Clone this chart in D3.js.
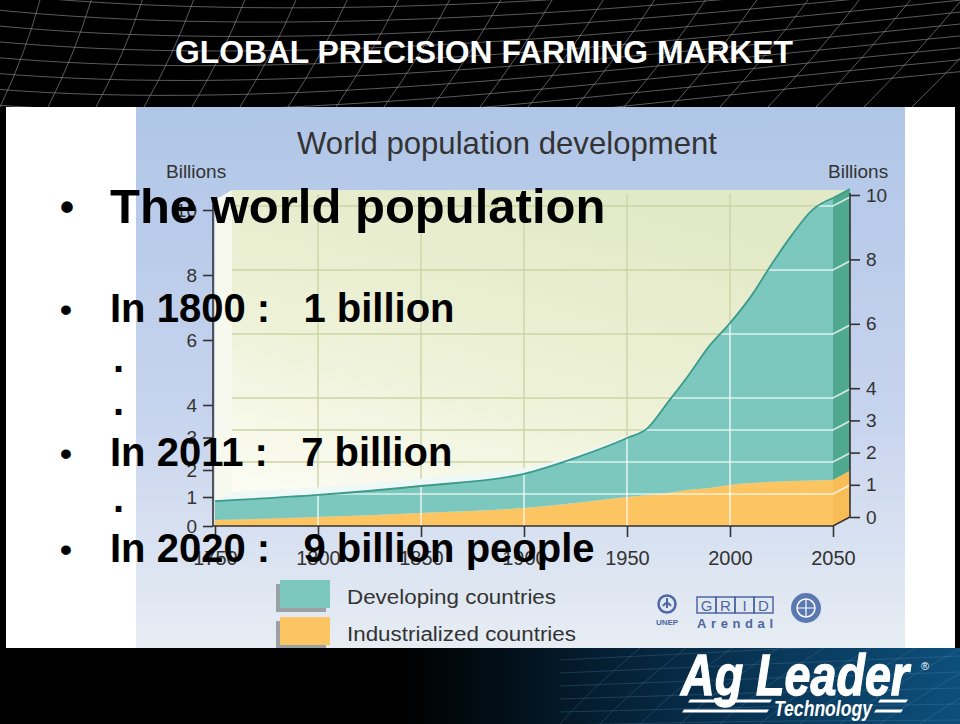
<!DOCTYPE html>
<html lang="en">
<head>
<meta charset="UTF-8">
<script src="https://d3js.org/d3.v7.min.js"></script>
<style>
  body { margin: 0; background: #fff; }
  svg { display: block; }
  text { font-family: "Liberation Sans", Arial, sans-serif; }
</style>
</head>
<body>
<script>
// values, billions of people
var years = [1750, 1800, 1850, 1900, 1925, 1950, 1960, 1970, 1980, 1990, 2000, 2010, 2020, 2030, 2040, 2050];
var industrialized = [0.19, 0.28, 0.41, 0.56, 0.72, 0.91, 0.97, 1.03, 1.13, 1.19, 1.28, 1.34, 1.38, 1.41, 1.42, 1.44];
var developing = [0.59, 0.69, 0.84, 1.07, 1.41, 1.84, 2.09, 2.85, 3.59, 4.44, 5.06, 5.82, 6.78, 7.68, 8.46, 8.81];
var xTicks = [1750, 1800, 1850, 1900, 1950, 2000, 2050];
var yTicks = [0, 1, 2, 3, 4, 6, 8, 10];
var legendLabels = ["Developing countries", "Industrialized countries"];
var bulletLines = ["The world population", "In 1800 :   1 billion", "In 2011 :   7 billion", "In 2020 :   9 billion people"];

var width = 960, height = 724;
var svg = d3.select("body").append("svg")
    .attr("width", width)
    .attr("height", height);
var defs = svg.append("defs");

var colTeal = "#7cc8be", colTealDark = "#3b9b8b", colTealSide = "#4fa98f",
    colOrange = "#fdc462", colAxis = "#333";

// scales
var x = d3.scaleLinear().domain([1750, 2050]).range([215, 833]);
var y = d3.scaleLinear().domain([0, 10]).range([526, 206]);
var yLeft = d3.scaleLinear().domain([0, 1, 2, 4, 10]).range([526, 497, 470, 405, 210]);
var yRight = d3.scaleLinear().domain([0, 10]).range([517, 195]);
var dx = 17, dy = -9; // depth of the 3d box

var rows = years.map(function (yr, i) {
    return { year: yr, ind: industrialized[i], dev: developing[i] };
});
var stack = d3.stack().keys(["ind", "dev"])(rows);

// ---- slide background ----
svg.append("rect").attr("width", width).attr("height", height).attr("fill", "#fff");
svg.append("rect").attr("x", 0).attr("y", 100).attr("width", 6).attr("height", 560).attr("fill", "#000");
svg.append("rect").attr("x", 955).attr("y", 100).attr("width", 5).attr("height", 560).attr("fill", "#000");

// chart picture background
var bg = defs.append("linearGradient").attr("id", "bg").attr("x1", 0).attr("y1", 0).attr("x2", 0).attr("y2", 1);
bg.append("stop").attr("offset", 0).attr("stop-color", "#b0c6e7");
bg.append("stop").attr("offset", 0.55).attr("stop-color", "#c6d3ee");
bg.append("stop").attr("offset", 1).attr("stop-color", "#e7edf3");
svg.append("rect").attr("x", 136).attr("y", 107).attr("width", 769).attr("height", 542).attr("fill", "url(#bg)");

svg.append("text").attr("x", 507).attr("y", 154).attr("text-anchor", "middle")
    .attr("font-size", 32).attr("fill", colAxis)
    .attr("textLength", 420).attr("lengthAdjust", "spacingAndGlyphs")
    .text("World population development");
svg.append("text").attr("x", 166).attr("y", 178).attr("font-size", 19).attr("fill", colAxis).text("Billions");
svg.append("text").attr("x", 828).attr("y", 178).attr("font-size", 19).attr("fill", colAxis).text("Billions");

// ---- 3d box: left wall and back panel ----
var bp = defs.append("linearGradient").attr("id", "backpanel").attr("x1", 0.1).attr("y1", 1).attr("x2", 0.6).attr("y2", 0);
bp.append("stop").attr("offset", 0).attr("stop-color", "#fdfdf6");
bp.append("stop").attr("offset", 0.45).attr("stop-color", "#eef2d8");
bp.append("stop").attr("offset", 1).attr("stop-color", "#e2e9c6");

var plotTop = 190;
svg.append("path")
    .attr("d", d3.line()([[x(1750), y(0)], [x(1750) + dx, y(0) + dy], [x(1750) + dx, plotTop], [x(1750), plotTop + 10]]))
    .attr("fill", "#f7f9ef");
svg.append("rect").attr("x", x(1750) + dx).attr("y", plotTop)
    .attr("width", x(2050) - x(1750)).attr("height", y(0) + dy - plotTop)
    .attr("fill", "url(#backpanel)");

// grid on the back panel
var backGrid = svg.append("g").attr("stroke", "#cdd3a6").attr("stroke-width", 1.4);
backGrid.selectAll(".gv").data(xTicks.slice(1, -1)).enter().append("line")
    .attr("x1", function (d) { return x(d); }).attr("x2", function (d) { return x(d); })
    .attr("y1", y(0)).attr("y2", plotTop + 4);
backGrid.selectAll(".gh").data(yTicks.slice(1)).enter().append("line")
    .attr("x1", x(1750) + dx).attr("x2", x(2050))
    .attr("y1", function (d) { return y(d); }).attr("y2", function (d) { return y(d); });

// top surface of the stacked area (3d lid)
var lid = d3.area()
    .curve(d3.curveMonotoneX)
    .x0(function (d) { return x(d.data.year); })
    .y0(function (d) { return y(d[1]); })
    .x1(function (d) { return x(d.data.year) + dx; })
    .y1(function (d) { return y(d[1]) + dy; });
svg.append("path").datum(stack[1]).attr("d", lid).attr("fill", "#eef8f6");

// front faces
var area = d3.area()
    .curve(d3.curveMonotoneX)
    .x(function (d) { return x(d.data.year); })
    .y0(function (d) { return y(d[0]); })
    .y1(function (d) { return y(d[1]); });
svg.selectAll(".layer").data(stack).enter().append("path")
    .attr("d", area)
    .attr("fill", function (d, i) { return i === 0 ? colOrange : colTeal; });

// side faces at 2050
var last = rows[rows.length - 1];
var xe = x(2050);
var sideLine = d3.line();
svg.append("path")
    .attr("d", sideLine([[xe, y(last.ind + last.dev)], [xe + dx, y(last.ind + last.dev) + dy], [xe + dx, y(last.ind) + dy], [xe, y(last.ind)]]))
    .attr("fill", colTealSide);
svg.append("path")
    .attr("d", sideLine([[xe, y(last.ind)], [xe + dx, y(last.ind) + dy], [xe + dx, y(0) + dy], [xe, y(0)]]))
    .attr("fill", "#f9bd58");

// white grid on the front faces, clipped to the filled area
var totalArea = d3.area()
    .curve(d3.curveMonotoneX)
    .x(function (d) { return x(d.data.year); })
    .y0(y(0))
    .y1(function (d) { return y(d[1]); });
defs.append("clipPath").attr("id", "frontclip").append("path").datum(stack[1])
    .attr("d", function (d) {
        return totalArea(d) + "M" + xe + "," + y(0) + "L" + (xe + dx) + "," + (y(0) + dy) + "L" + (xe + dx) + "," + (y(last.ind + last.dev) + dy) + "L" + xe + "," + y(last.ind + last.dev) + "Z";
    });
var frontGrid = svg.append("g").attr("clip-path", "url(#frontclip)")
    .attr("stroke", "#fff").attr("stroke-opacity", 0.75).attr("stroke-width", 1.6).attr("fill", "none");
frontGrid.selectAll(".fv").data(xTicks.slice(1, -1)).enter().append("line")
    .attr("x1", function (d) { return x(d); }).attr("x2", function (d) { return x(d); })
    .attr("y1", y(0)).attr("y2", y(11));
frontGrid.selectAll(".fh").data(yTicks.slice(1)).enter().append("path")
    .attr("d", function (d) { return d3.line()([[x(1750), y(d)], [xe, y(d)], [xe + dx, y(d) + dy]]); });

// total population line
svg.append("path").datum(stack[1])
    .attr("d", d3.line().curve(d3.curveMonotoneX)
        .x(function (d) { return x(d.data.year); })
        .y(function (d) { return y(d[1]); }))
    .attr("fill", "none").attr("stroke", colTealDark).attr("stroke-width", 1.8);
svg.append("line")
    .attr("x1", xe).attr("y1", y(last.ind + last.dev))
    .attr("x2", xe + dx).attr("y2", y(last.ind + last.dev) + dy)
    .attr("stroke", colTealDark).attr("stroke-width", 1.8);

// ---- axes ----
var axes = svg.append("g").attr("stroke", colAxis).attr("stroke-width", 1.6).attr("fill", "none");
axes.append("line").attr("x1", 213).attr("x2", 213).attr("y1", y(0)).attr("y2", 205);
axes.append("path").attr("d", d3.line()([[213, y(0)], [xe, y(0)], [xe + dx, y(0) + dy], [xe + dx, 193]]));

var axLeft = svg.append("g").attr("transform", "translate(213,0)")
    .call(d3.axisLeft(yLeft).tickValues(yTicks).tickSize(10).tickPadding(6));
var axRight = svg.append("g").attr("transform", "translate(" + (xe + dx) + ",0)")
    .call(d3.axisRight(yRight).tickValues(yTicks).tickSize(10).tickPadding(6));
var axBottom = svg.append("g").attr("transform", "translate(0," + y(0) + ")")
    .call(d3.axisBottom(x).tickValues(xTicks).tickFormat(d3.format("d")).tickSize(11).tickPadding(14));
[axLeft, axRight, axBottom].forEach(function (g) {
    g.select(".domain").remove();
    g.selectAll("line").attr("stroke", colAxis).attr("stroke-width", 1.6);
    g.selectAll("text").attr("fill", colAxis).attr("font-size", 19)
        .attr("font-family", "'Liberation Sans', Arial, sans-serif");
});
axBottom.selectAll("text").attr("font-size", 20);

// ---- legend ----
var legend = svg.append("g");
legendLabels.forEach(function (lab, i) {
    var ly = 580 + i * 37;
    legend.append("rect").attr("x", 276).attr("y", ly + 4).attr("width", 50).attr("height", 28).attr("fill", "#9aa0a6");
    legend.append("rect").attr("x", 280).attr("y", ly).attr("width", 50).attr("height", 28)
        .attr("fill", i === 0 ? colTeal : colOrange);
    legend.append("text").attr("x", 347).attr("y", ly + 24).attr("font-size", 20).attr("fill", colAxis)
        .attr("textLength", i === 0 ? 209 : 229).attr("lengthAdjust", "spacingAndGlyphs").text(lab);
});

// UNEP / GRID Arendal / UN marks
var logos = svg.append("g").attr("fill", "none").attr("stroke", "#4d67a0");
logos.append("circle").attr("cx", 667).attr("cy", 604).attr("r", 8.5).attr("stroke-width", 2.5);
logos.append("path").attr("d", "M667,598 v10 M663,606 q4,-6 8,0").attr("stroke-width", 2);
svg.append("text").attr("x", 667).attr("y", 625).attr("text-anchor", "middle").attr("font-size", 8)
    .attr("font-weight", "bold").attr("fill", "#4d67a0").text("UNEP");
["G", "R", "I", "D"].forEach(function (c, i) {
    logos.append("rect").attr("x", 697 + i * 19).attr("y", 597).attr("width", 19).attr("height", 16).attr("stroke-width", 1.5);
    svg.append("text").attr("x", 706.5 + i * 19).attr("y", 611).attr("text-anchor", "middle")
        .attr("font-size", 15).attr("fill", "#4d67a0").text(c);
});
svg.append("text").attr("x", 697).attr("y", 628).attr("font-size", 13).attr("font-weight", "bold")
    .attr("fill", "#4d67a0").attr("textLength", 76).attr("lengthAdjust", "spacing").text("Arendal");
svg.append("circle").attr("cx", 806).attr("cy", 608).attr("r", 15).attr("fill", "#5a78b2");
svg.append("circle").attr("cx", 806).attr("cy", 608).attr("r", 9).attr("fill", "none").attr("stroke", "#fff").attr("stroke-width", 1.5);
svg.append("path").attr("d", "M798,608 h16 M806,600 v16").attr("stroke", "#fff").attr("stroke-width", 1.2);

// ---- top banner ----
svg.append("rect").attr("x", 0).attr("y", 0).attr("width", width).attr("height", 107).attr("fill", "#000");
defs.append("clipPath").attr("id", "topclip").append("rect").attr("width", width).attr("height", 107);
var mesh = svg.append("g").attr("clip-path", "url(#topclip)")
    .attr("fill", "none").attr("stroke", "#8f8f8f").attr("stroke-width", 0.8).attr("stroke-opacity", 0.8);
d3.range(-6, 24).forEach(function (k) {
    var x0 = k * 48;
    var p = d3.path();
    p.moveTo(x0, 107);
    p.quadraticCurveTo(x0 + 25 + k * 1.5, 55, x0 + 40 + k * 3.2, 0);
    mesh.append("path").attr("d", p.toString());
});
d3.range(-4, 10).forEach(function (k) {
    var p = d3.path();
    p.moveTo(-40, k * 16 - 10);
    p.bezierCurveTo(250, k * 15 + 25, 600, k * 11 + 5, 1000, k * 12 - 40);
    mesh.append("path").attr("d", p.toString());
});
svg.append("text").attr("x", 484).attr("y", 63).attr("text-anchor", "middle")
    .attr("font-size", 31).attr("font-weight", "bold").attr("fill", "#fff")
    .attr("font-family", "'Liberation Sans Narrow', 'Liberation Sans', Arial, sans-serif")
    .attr("textLength", 618).attr("lengthAdjust", "spacingAndGlyphs")
    .text("GLOBAL PRECISION FARMING MARKET");

// ---- bottom banner ----
var bb = defs.append("linearGradient").attr("id", "bottombar").attr("x1", 0).attr("y1", 0).attr("x2", 1).attr("y2", 0);
bb.append("stop").attr("offset", 0).attr("stop-color", "#000");
bb.append("stop").attr("offset", 0.42).attr("stop-color", "#000");
bb.append("stop").attr("offset", 0.72).attr("stop-color", "#072c48");
bb.append("stop").attr("offset", 1).attr("stop-color", "#0d4f7b");
svg.append("rect").attr("x", 0).attr("y", 648).attr("width", width).attr("height", 76).attr("fill", "url(#bottombar)");
defs.append("clipPath").attr("id", "botclip").append("rect").attr("y", 648).attr("width", width).attr("height", 76);
var mesh2 = svg.append("g").attr("clip-path", "url(#botclip)")
    .attr("fill", "none").attr("stroke", "#5f8fb5").attr("stroke-width", 0.8).attr("stroke-opacity", 0.35);
d3.range(0, 12).forEach(function (k) {
    var p = d3.path();
    p.moveTo(560 + k * 40, 724);
    p.quadraticCurveTo(590 + k * 42, 690, 640 + k * 46, 648);
    mesh2.append("path").attr("d", p.toString());
});
d3.range(0, 6).forEach(function (k) {
    var p = d3.path();
    p.moveTo(560, 660 + k * 13);
    p.quadraticCurveTo(760, 650 + k * 14, 960, 640 + k * 16);
    mesh2.append("path").attr("d", p.toString());
});
var logo = svg.append("g").attr("fill", "#fff");
logo.append("text").attr("x", 681).attr("y", 695).attr("font-size", 57)
    .attr("font-family", "'Liberation Sans Narrow', 'Liberation Sans', Arial, sans-serif")
    .attr("font-weight", "bold").attr("font-style", "italic")
    .attr("stroke", "#fff").attr("stroke-width", 1.3)
    .attr("textLength", 228).attr("lengthAdjust", "spacingAndGlyphs").text("Ag Leader");
logo.append("text").attr("x", 921).attr("y", 670).attr("font-size", 11).text("\u00ae");
logo.append("text").attr("x", 774).attr("y", 716).attr("font-size", 22)
    .attr("font-family", "'Liberation Sans Narrow', 'Liberation Sans', Arial, sans-serif")
    .attr("font-weight", "bold").attr("font-style", "italic")
    .attr("textLength", 98).attr("lengthAdjust", "spacingAndGlyphs").text("Technology");
[[688, 701, 770], [682, 711, 767], [878, 701, 906], [874, 711, 901]].forEach(function (l) {
    logo.append("path").attr("d", d3.line()([[l[0] + 2, l[1] - 1.5], [l[2] + 2, l[1] - 1.5], [l[2], l[1] + 1.5], [l[0], l[1] + 1.5]]));
});

// ---- bullet text overlay ----
var txt = svg.append("g").attr("fill", "#000").attr("font-weight", "bold");
var lineY = [223, 322, 466, 562];
bulletLines.forEach(function (t, i) {
    var fs = i === 0 ? 49 : 40;
    txt.append("text").attr("x", 60).attr("y", lineY[i] - (i === 0 ? 2 : 1)).attr("font-size", i === 0 ? 40 : 34).text("\u2022");
    txt.append("text").attr("x", 110).attr("y", lineY[i]).attr("font-size", fs)
        .attr("xml:space", "preserve").text(t);
});
[372, 415, 512].forEach(function (dyv) {
    txt.append("text").attr("x", 113).attr("y", dyv).attr("font-size", 40).text(".");
});
</script>
</body>
</html>
